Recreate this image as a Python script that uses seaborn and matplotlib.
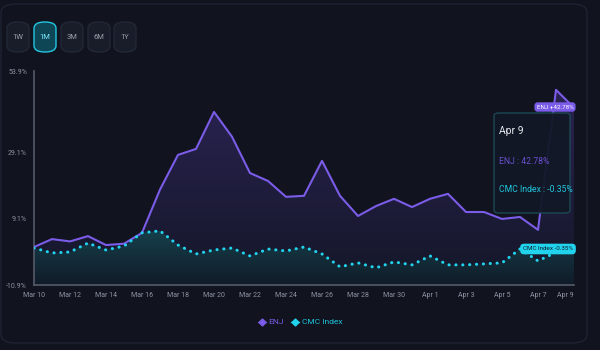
import numpy as np
import pandas as pd
import matplotlib
matplotlib.use("Agg")
import matplotlib.pyplot as plt
import matplotlib.dates as mdates
from matplotlib.patches import FancyBboxPatch
from matplotlib.lines import Line2D
from matplotlib.colors import LinearSegmentedColormap
import seaborn as sns

# --------------------------
# Data
# --------------------------
dates = pd.date_range("2024-03-10", "2024-04-09", freq="D")
enj = [0.6, 3.0, 2.3, 3.9, 1.2, 1.6, 4.9, 18.0, 28.5, 30.3, 41.5, 34.0, 23.0, 20.6, 15.8, 16.1,
       26.7, 16.1, 10.0, 13.0, 15.2, 12.7, 15.2, 16.7, 11.2, 11.2, 9.1, 9.7, 5.8, 48.2, 42.78]
cmc = [0.3, -1.2, -0.9, 1.8, -0.3, 0.9, 4.9, 5.5, 1.2, -1.5, -0.3, 0.3, -2.1, 0.0, -0.6, 0.6,
       -1.5, -5.4, -4.2, -5.7, -3.9, -4.8, -2.1, -4.8, -4.8, -4.5, -4.2, 0.0, -3.6, -1.0, -0.35]
y_ticks = [-10.9, 9.1, 29.1, 53.9]
periods = ["1W", "1M", "3M", "6M", "1Y"]
active_period = "1M"
tooltip_date = "Apr 9"

df = pd.DataFrame({"date": dates, "ENJ": enj, "CMC Index": cmc})

# --------------------------
# Style
# --------------------------
BG = "#11141f"
PURPLE = "#7b5ce8"
CYAN = "#22d3ee"
GRID = "#555a6a"
TXT = "#8d93a3"

sns.set_style("dark", rc={"axes.facecolor": BG, "figure.facecolor": BG})
plt.rcParams["font.family"] = ["Roboto", "DejaVu Sans"]

W, H = 600, 350
fig = plt.figure(figsize=(6, 3.5), dpi=100)
ax = fig.add_axes([34 / W, 1 - 285 / H, 540 / W, (285 - 71) / H])


def px(x, y):
    return x / W, 1 - y / H


# card border
fig.patches.append(FancyBboxPatch(px(1, 343), 586 / W, 339 / H, transform=fig.transFigure,
                                  boxstyle="round,pad=0,rounding_size=0.025",
                                  facecolor="none", edgecolor="#1e2332", lw=1))

# period buttons
btn_x = [7, 34, 61, 88, 114]
for label, bx in zip(periods, btn_x):
    active = label == active_period
    fig.patches.append(FancyBboxPatch(px(bx, 52), 22 / W, 30 / H, transform=fig.transFigure,
                                      boxstyle="round,pad=0,rounding_size=0.018",
                                      facecolor="#0f4656" if active else "#191d29",
                                      edgecolor="#22c6e0" if active else "#232836", lw=1))
    fig.text(*px(bx + 11, 37), label, ha="center", va="center", fontsize=5.5,
             color="#7eeaff" if active else "#9aa0ad")

# --------------------------
# Areas and lines
# --------------------------
xnum = mdates.date2num(df["date"])
ybot = y_ticks[0]


def gradient_fill(yvals, top, bottom, z):
    poly = ax.fill_between(xnum, yvals, ybot, facecolor="none", edgecolor="none", zorder=z)
    cmap = LinearSegmentedColormap.from_list("g", [bottom, top])
    grad = np.linspace(1, 0, 256).reshape(-1, 1)
    im = ax.imshow(grad, cmap=cmap, aspect="auto", origin="upper",
                   extent=[xnum[0], xnum[-1], ybot, max(yvals)], zorder=z)
    im.set_clip_path(poly.get_paths()[0], transform=ax.transData)


gradient_fill(enj, "#2a2352", "#141728", 1)
gradient_fill(cmc, "#15404c", "#111b28", 2)

sns.lineplot(data=df, x="date", y="ENJ", color=PURPLE, lw=1.5, ax=ax, zorder=4)
sns.lineplot(data=df, x="date", y="CMC Index", color=CYAN, lw=2.2, ax=ax, zorder=5)
ax.lines[-1].set_linestyle((0, (0.05, 2.2)))
ax.lines[-1].set_dash_capstyle("round")

# --------------------------
# Axes
# --------------------------
ax.set_xlim(xnum[0], xnum[-1])
ax.set_ylim(y_ticks[0], y_ticks[-1])
ax.set_yticks(y_ticks)
ax.set_yticklabels([f"{v}%" for v in y_ticks])
ax.xaxis.set_major_locator(mdates.DayLocator(interval=2))
ax.xaxis.set_major_formatter(mdates.DateFormatter("%b %-d"))
ax.set_xlabel("")
ax.set_ylabel("")
ax.grid(False)
for s in ["top", "right"]:
    ax.spines[s].set_visible(False)
for s in ["left", "bottom"]:
    ax.spines[s].set_visible(True)
    ax.spines[s].set_color(GRID)
    ax.spines[s].set_linewidth(1.2)
ax.tick_params(axis="both", colors=GRID, labelcolor=TXT, labelsize=5, length=3, width=1,
               direction="out", pad=2)
fig.canvas.draw()
xl = ax.get_xticklabels()
xl[-1].set_ha("right")

# --------------------------
# Tooltip and end labels
# --------------------------
fig.patches.append(FancyBboxPatch(px(494, 213), 76 / W, 100 / H, transform=fig.transFigure,
                                  boxstyle="round,pad=0,rounding_size=0.008",
                                  facecolor="#121826", edgecolor="#1d4a55", lw=1, alpha=0.95,
                                  zorder=10))
fig.text(*px(499, 131), tooltip_date, fontsize=7.5, color="#e6e8ee", va="center", zorder=11)
fig.text(*px(499, 162), f"ENJ : {enj[-1]:.2f}%", fontsize=6.2, color="#6a4fd0",
         va="center", zorder=11)
fig.text(*px(499, 190), f"CMC Index : {cmc[-1]:.2f}%", fontsize=6.2, color="#20c7df",
         va="center", zorder=11)

fig.text(*px(555, 107), f"ENJ +{enj[-1]:.2f}%", fontsize=4.5, color="white", ha="center",
         va="center", zorder=12,
         bbox=dict(boxstyle="round,pad=0.35,rounding_size=0.5", fc=PURPLE, ec="none"))
fig.text(*px(548, 249), f"CMC Index {cmc[-1]:.2f}%", fontsize=4.5, color="#0b1d2b",
         ha="center", va="center", zorder=12,
         bbox=dict(boxstyle="round,pad=0.45,rounding_size=0.6", fc=CYAN, ec="none"))

# legend
handles = [Line2D([0], [0], color=PURPLE, marker="D", markersize=3.5, lw=1),
           Line2D([0], [0], color=CYAN, marker="D", markersize=3.5, lw=1)]
fig.legend(handles, ["ENJ", "CMC Index"], loc="center", bbox_to_anchor=px(300, 322), ncol=2,
           frameon=False, labelcolor=[PURPLE, "#1fc4dc"], fontsize=6, handlelength=1,
           handletextpad=0.3, columnspacing=0.8)

fig.savefig("out.png", dpi=100, facecolor=BG)
